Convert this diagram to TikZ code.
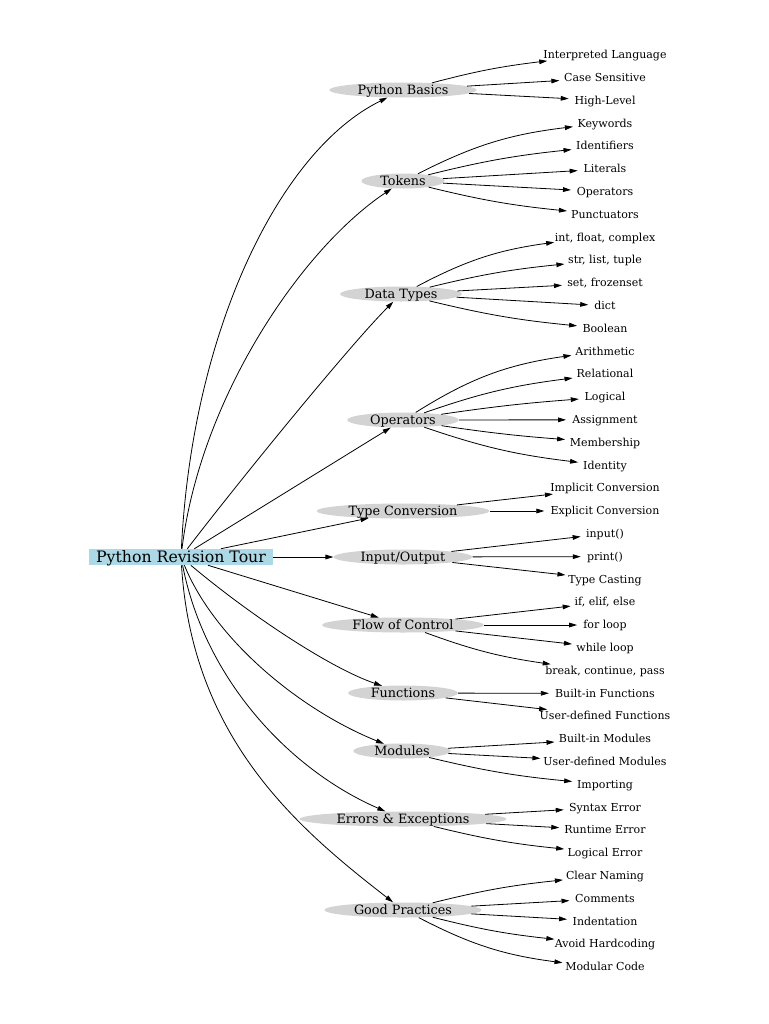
\documentclass[tikz,border=0pt]{standalone}
\usepackage{fontspec}
\setmainfont{DejaVu Serif}
\usetikzlibrary{arrows.meta,shapes.geometric}
\definecolor{rootblue}{HTML}{ADD8E6}
\definecolor{midgray}{HTML}{D3D3D3}
\newlength{\leafw}
\newcommand{\leaffont}{\fontsize{8.25pt}{9pt}\selectfont}
\newcommand{\midfont}{\fontsize{9.6pt}{10.5pt}\selectfont}
\newcommand{\rootfont}{\fontsize{11.8pt}{13pt}\selectfont}
\newcommand{\leafnode}[3]{%
  \pgfinterruptpicture\settowidth{\leafw}{\leaffont #3}\global\leafw=\leafw\endpgfinterruptpicture
  \edef\leafmin{\the\dimexpr\leafw+9pt\relax}%
  \node[leaf, minimum width=\leafmin] (#1) at (605,#2) {\makebox[0pt]{#3}};}
\tikzset{
  rootbox/.style={rectangle, fill=rootblue, minimum width=138pt, minimum height=12pt,
    inner sep=0pt, text height=8.5pt, text depth=0pt, font=\rootfont},
  mid/.style={ellipse, fill=midgray, inner xsep=5pt, inner ysep=0pt,
    minimum height=11.25pt, text height=6.3pt, text depth=0pt, font=\midfont},
  leaf/.style={ellipse, inner sep=0pt, minimum height=16.5pt,
    text height=5.5pt, text depth=0pt, font=\leaffont},
  conn/.style={draw, line width=0.6pt, -{Triangle[length=6pt,width=3.5pt]}},
}
\begin{document}
\begin{tikzpicture}[x=0.75pt,y=-0.75pt]
\fill[white] (0,0) rectangle (768,1024);
\useasboundingbox (0,0) rectangle (768,1024);

\node[rootbox] (root) at (181,557) {Python Revision Tour};

\node[mid] (pb) at (403,90) {Python Basics};
\node[mid] (tok) at (403,181) {Tokens};
\node[mid] (dt) at (401,294) {Data Types};
\node[mid] (ops) at (403,420) {Operators};
\node[mid] (tc) at (403,511) {Type Conversion};
\node[mid] (io) at (403,557) {Input/Output};
\node[mid] (flow) at (403,625) {Flow of Control};
\node[mid] (fn) at (403,693) {Functions};
\node[mid] (mod) at (402,751) {Modules};
\node[mid] (err) at (403,819) {Errors \& Exceptions};
\node[mid] (gp) at (403,910) {Good Practices};

\leafnode{l0}{55.0}{Interpreted Language}
\leafnode{l1}{77.8}{Case Sensitive}
\leafnode{l2}{100.6}{High-Level}
\leafnode{l3}{123.4}{Keywords}
\leafnode{l4}{146.2}{Identifiers}
\leafnode{l5}{169.0}{Literals}
\leafnode{l6}{191.8}{Operators}
\leafnode{l7}{214.6}{Punctuators}
\leafnode{l8}{237.4}{int, float, complex}
\leafnode{l9}{260.2}{str, list, tuple}
\leafnode{l10}{283.0}{set, frozenset}
\leafnode{l11}{305.8}{dict}
\leafnode{l12}{328.6}{Boolean}
\leafnode{l13}{351.4}{Arithmetic}
\leafnode{l14}{374.2}{Relational}
\leafnode{l15}{397.0}{Logical}
\leafnode{l16}{419.8}{Assignment}
\leafnode{l17}{442.6}{Membership}
\leafnode{l18}{465.4}{Identity}
\leafnode{l19}{488.2}{Implicit Conversion}
\leafnode{l20}{511.0}{Explicit Conversion}
\leafnode{l21}{533.8}{input()}
\leafnode{l22}{556.6}{print()}
\leafnode{l23}{579.4}{Type Casting}
\leafnode{l24}{602.2}{if, elif, else}
\leafnode{l25}{625.0}{for loop}
\leafnode{l26}{647.8}{while loop}
\leafnode{l27}{670.6}{break, continue, pass}
\leafnode{l28}{693.4}{Built-in Functions}
\leafnode{l29}{716.2}{User-defined Functions}
\leafnode{l30}{739.0}{Built-in Modules}
\leafnode{l31}{761.8}{User-defined Modules}
\leafnode{l32}{784.6}{Importing}
\leafnode{l33}{807.4}{Syntax Error}
\leafnode{l34}{830.2}{Runtime Error}
\leafnode{l35}{853.0}{Logical Error}
\leafnode{l36}{875.8}{Clear Naming}
\leafnode{l37}{898.6}{Comments}
\leafnode{l38}{921.4}{Indentation}
\leafnode{l39}{944.2}{Avoid Hardcoding}
\leafnode{l40}{967.0}{Modular Code}

% root to topics
\draw[conn] (root) .. controls (192,330) and (280,150) .. (pb);
\draw[conn] (root) .. controls (200,400) and (300,250) .. (tok);
\draw[conn] (root) .. controls (240,480) and (350,345) .. (dt);
\draw[conn] (root) -- (ops);
\draw[conn] (root) -- (tc);
\draw[conn] (root) -- (io);
\draw[conn] (root) -- (flow);
\draw[conn] (root) .. controls (250,615) and (330,668) .. (fn);
\draw[conn] (root) .. controls (215,640) and (300,710) .. (mod);
\draw[conn] (root) .. controls (205,680) and (290,770) .. (err);
\draw[conn] (root) .. controls (192,740) and (300,830) .. (gp);

% topics to leaves
\draw[conn] (pb) to[bend left=4] (l0);
\draw[conn] (pb) -- (l1);
\draw[conn] (pb) -- (l2);
\draw[conn] (tok) to[bend left=10] (l3);
\draw[conn] (tok) to[bend left=4] (l4);
\draw[conn] (tok) -- (l5);
\draw[conn] (tok) -- (l6);
\draw[conn] (tok) to[bend right=4] (l7);
\draw[conn] (dt) to[bend left=10] (l8);
\draw[conn] (dt) to[bend left=4] (l9);
\draw[conn] (dt) -- (l10);
\draw[conn] (dt) -- (l11);
\draw[conn] (dt) to[bend right=4] (l12);
\draw[conn] (ops) to[bend left=12] (l13);
\draw[conn] (ops) to[bend left=6] (l14);
\draw[conn] (ops) to[bend left=2] (l15);
\draw[conn] (ops) -- (l16);
\draw[conn] (ops) to[bend right=2] (l17);
\draw[conn] (ops) to[bend right=6] (l18);
\draw[conn] (tc) -- (l19);
\draw[conn] (tc) -- (l20);
\draw[conn] (io) -- (l21);
\draw[conn] (io) -- (l22);
\draw[conn] (io) -- (l23);
\draw[conn] (flow) -- (l24);
\draw[conn] (flow) -- (l25);
\draw[conn] (flow) -- (l26);
\draw[conn] (flow) to[bend right=6] (l27);
\draw[conn] (fn) -- (l28);
\draw[conn] (fn) -- (l29);
\draw[conn] (mod) -- (l30);
\draw[conn] (mod) -- (l31);
\draw[conn] (mod) to[bend right=4] (l32);
\draw[conn] (err) -- (l33);
\draw[conn] (err) -- (l34);
\draw[conn] (err) to[bend right=4] (l35);
\draw[conn] (gp) to[bend left=4] (l36);
\draw[conn] (gp) -- (l37);
\draw[conn] (gp) -- (l38);
\draw[conn] (gp) to[bend right=4] (l39);
\draw[conn] (gp) to[bend right=10] (l40);
\end{tikzpicture}
\end{document}
